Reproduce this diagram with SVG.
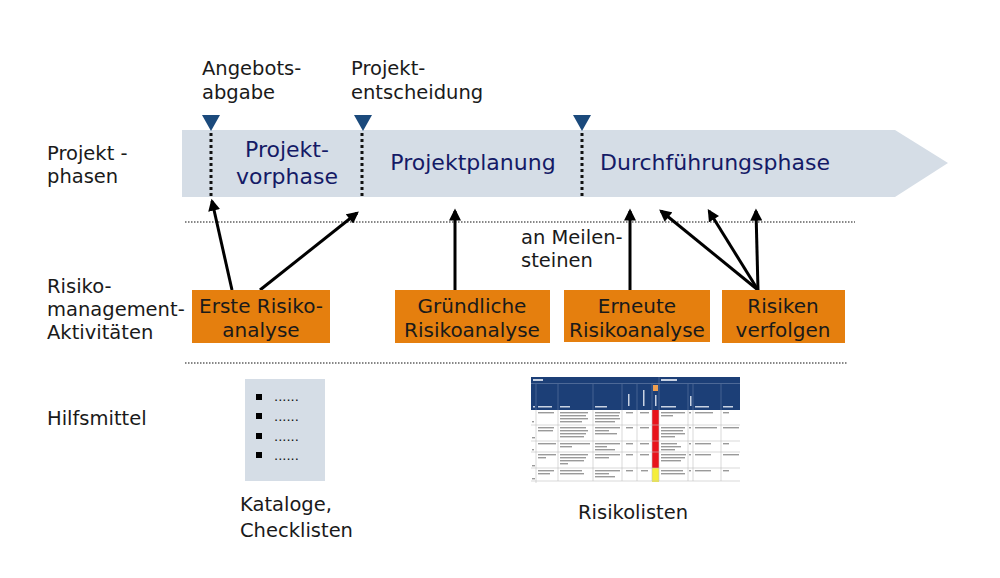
<svg xmlns="http://www.w3.org/2000/svg" width="1000" height="578" viewBox="0 0 1000 578">
<style>
  .lbl { font-family: "DejaVu Sans", Verdana, sans-serif; font-size: 19.5px; fill: #1a1a1a; }
  .phase { font-family: "DejaVu Sans", Verdana, sans-serif; font-size: 22px; fill: #141a66; }
  .box { fill: #e57f0e; }
  .boxt { font-family: "DejaVu Sans", Verdana, sans-serif; font-size: 20px; fill: #1a1a1a; text-anchor: middle; }
  .ms { fill: #1b4a7c; }
  .vdot { stroke: #111; stroke-width: 3; stroke-dasharray: 3 3; fill: none; }
  .hdot { stroke: #111; stroke-width: 1.2; stroke-dasharray: 1.5 1.5; fill: none; }
  .conn { stroke: #000; stroke-width: 3; fill: none; marker-end: url(#ah); }
  .grid { stroke: #bfbfbf; stroke-width: 0.6; }
  .tx { fill: #9a9a9a; }
  .wt { fill: #c9d3e3; }
</style>
<defs>
  <marker id="ah" viewBox="0 0 10 10" refX="8" refY="5" markerWidth="4.2" markerHeight="4" orient="auto" markerUnits="strokeWidth">
    <path d="M0,0 L10,5 L0,10 z" fill="#000"/>
  </marker>
</defs>
<rect width="1000" height="578" fill="#fff"/>

<!-- Row labels -->
<g id="label-projektphasen">
  <text class="lbl" x="47" y="160">Projekt -</text>
  <text class="lbl" x="47" y="183">phasen</text>
</g>
<g id="label-risikomanagement">
  <text class="lbl" x="47" y="293">Risiko-</text>
  <text class="lbl" x="47" y="316">management-</text>
  <text class="lbl" x="47" y="339">Aktivitäten</text>
</g>
<g id="label-hilfsmittel">
  <text class="lbl" x="47" y="425">Hilfsmittel</text>
</g>

<!-- Phase band -->
<g id="phase-band">
  <path d="M182,130 L895,130 L948,163 L895,197 L182,197 Z" fill="#d5dde6"/>
  <text class="phase" x="287" y="157" text-anchor="middle">Projekt-</text>
  <text class="phase" x="287" y="184" text-anchor="middle">vorphase</text>
  <text class="phase" x="473" y="170" text-anchor="middle">Projektplanung</text>
  <text class="phase" x="715" y="170" text-anchor="middle">Durchführungsphase</text>
</g>

<!-- Milestones -->
<g id="milestone-angebotsabgabe">
  <text class="lbl" x="202" y="75">Angebots-</text>
  <text class="lbl" x="202" y="99">abgabe</text>
  <path class="ms" d="M202,115 L220,115 L211,131 Z"/>
  <line class="vdot" x1="211" y1="133" x2="211" y2="197"/>
</g>
<g id="milestone-projektentscheidung">
  <text class="lbl" x="351" y="75">Projekt-</text>
  <text class="lbl" x="351" y="99">entscheidung</text>
  <path class="ms" d="M354,115 L372,115 L363,131 Z"/>
  <line class="vdot" x1="362" y1="133" x2="362" y2="197"/>
</g>
<g id="milestone-3">
  <path class="ms" d="M573,115 L591,115 L582,131 Z"/>
  <line class="vdot" x1="582" y1="133" x2="582" y2="197"/>
</g>

<!-- separators -->
<g id="separators">
  <line class="hdot" x1="185" y1="222" x2="855" y2="222"/>
  <line class="hdot" x1="185" y1="363" x2="847" y2="363"/>
</g>

<!-- Connectors -->
<g id="connectors">
  <line class="conn" x1="232" y1="290" x2="212" y2="201"/>
  <line class="conn" x1="260" y1="290" x2="357" y2="213"/>
  <line class="conn" x1="455" y1="290" x2="455" y2="211"/>
  <line class="conn" x1="630" y1="290" x2="630" y2="211"/>
  <line class="conn" x1="758" y1="290" x2="661" y2="211"/>
  <line class="conn" x1="758" y1="290" x2="709" y2="211"/>
  <line class="conn" x1="758" y1="290" x2="756" y2="211"/>
</g>
<g id="label-meilensteine">
  <text class="lbl" x="521" y="244">an Meilen-</text>
  <text class="lbl" x="521" y="267">steinen</text>
</g>

<!-- Activity boxes -->
<g id="erste-risikoanalyse">
  <rect class="box" x="192" y="290" width="138" height="53"/>
  <text class="boxt" x="261" y="313">Erste Risiko-</text>
  <text class="boxt" x="261" y="337">analyse</text>
</g>
<g id="gruendliche-risikoanalyse">
  <rect class="box" x="395" y="290" width="155" height="53"/>
  <text class="boxt" x="472" y="313">Gründliche</text>
  <text class="boxt" x="472" y="337">Risikoanalyse</text>
</g>
<g id="erneute-risikoanalyse">
  <rect class="box" x="564" y="290" width="146" height="52"/>
  <text class="boxt" x="637" y="313">Erneute</text>
  <text class="boxt" x="637" y="337">Risikoanalyse</text>
</g>
<g id="risiken-verfolgen">
  <rect class="box" x="722" y="290" width="123" height="53"/>
  <text class="boxt" x="783" y="313">Risiken</text>
  <text class="boxt" x="783" y="337">verfolgen</text>
</g>

<!-- Checklist -->
<g id="kataloge-checklisten">
  <rect x="245" y="379" width="80" height="102" fill="#d5dde6"/>
  <rect x="256" y="394" width="6" height="6" fill="#000"/>
  <rect x="256" y="413" width="6" height="6" fill="#000"/>
  <rect x="256" y="433" width="6" height="6" fill="#000"/>
  <rect x="256" y="452" width="6" height="6" fill="#000"/>
  <g font-family="DejaVu Sans, sans-serif" font-size="13" fill="#111">
    <text x="274" y="401">......</text>
    <text x="274" y="421">......</text>
    <text x="274" y="441">......</text>
    <text x="274" y="460">......</text>
  </g>
  <text class="lbl" x="240" y="511">Kataloge,</text>
  <text class="lbl" x="240" y="537">Checklisten</text>
</g>

<!-- Risk list (spreadsheet) -->
<g id="risikolisten">
  <rect x="531" y="377" width="209" height="106" fill="#fff"/>
  <rect x="531" y="377" width="209" height="33" fill="#1c3f77"/>
  <line x1="531" y1="383.5" x2="740" y2="383.5" stroke="#6f86ad" stroke-width="0.6"/>
  <rect x="533" y="379" width="10" height="2" class="wt"/>
  <rect x="661" y="379" width="16" height="2" class="wt"/>
  <g stroke="#6f86ad" stroke-width="0.5">
    <line x1="536" y1="384" x2="536" y2="410"/>
    <line x1="558" y1="384" x2="558" y2="410"/>
    <line x1="593" y1="384" x2="593" y2="410"/>
    <line x1="622" y1="384" x2="622" y2="410"/>
    <line x1="637" y1="384" x2="637" y2="410"/>
    <line x1="652" y1="384" x2="652" y2="410"/>
    <line x1="659" y1="377" x2="659" y2="410"/>
    <line x1="688" y1="384" x2="688" y2="410"/>
    <line x1="693" y1="384" x2="693" y2="410"/>
    <line x1="721" y1="384" x2="721" y2="410"/>
  </g>
  <rect x="653" y="385" width="5" height="6" fill="#f0a050"/>
  <rect x="533" y="406" width="2" height="1.5" class="wt"/>
  <rect x="538" y="406" width="14" height="1.5" class="wt"/>
  <rect x="560" y="406" width="10" height="1.5" class="wt"/>
  <rect x="595" y="406" width="12" height="1.5" class="wt"/>
  <rect x="628" y="394" width="1.5" height="12" class="wt"/>
  <rect x="643" y="390" width="1.5" height="16" class="wt"/>
  <rect x="655" y="395" width="1.5" height="11" class="wt"/>
  <rect x="661" y="406" width="15" height="1.5" class="wt"/>
  <rect x="690" y="396" width="1.5" height="10" class="wt"/>
  <rect x="695" y="406" width="14" height="1.5" class="wt"/>
  <rect x="723" y="406" width="10" height="1.5" class="wt"/>
  <rect x="652" y="410" width="7" height="58" fill="#e8141b"/>
  <rect x="652" y="468" width="7" height="14" fill="#f5ee3a"/>
  <g class="grid">
    <line x1="531" y1="425" x2="740" y2="425"/>
    <line x1="531" y1="441" x2="740" y2="441"/>
    <line x1="531" y1="452" x2="740" y2="452"/>
    <line x1="531" y1="468" x2="740" y2="468"/>
    <line x1="531" y1="481" x2="740" y2="481"/>
    <line x1="536" y1="410" x2="536" y2="483"/>
    <line x1="558" y1="410" x2="558" y2="481"/>
    <line x1="593" y1="410" x2="593" y2="481"/>
    <line x1="622" y1="410" x2="622" y2="481"/>
    <line x1="637" y1="410" x2="637" y2="481"/>
    <line x1="652" y1="410" x2="652" y2="481"/>
    <line x1="659" y1="410" x2="659" y2="481"/>
    <line x1="688" y1="410" x2="688" y2="481"/>
    <line x1="693" y1="410" x2="693" y2="481"/>
    <line x1="721" y1="410" x2="721" y2="481"/>
  </g>
  <g class="tx">
    <rect x="538" y="412" width="16" height="1.4"/>
    <rect x="560" y="412" width="28" height="1.4"/><rect x="560" y="415" width="26" height="1.4"/><rect x="560" y="418" width="28" height="1.4"/><rect x="560" y="421" width="22" height="1.4"/>
    <rect x="595" y="412" width="25" height="1.4"/><rect x="595" y="415" width="24" height="1.4"/><rect x="595" y="418" width="25" height="1.4"/><rect x="595" y="421" width="20" height="1.4"/>
    <rect x="626" y="412" width="7" height="1.4"/><rect x="640" y="412" width="9" height="1.4"/>
    <rect x="661" y="412" width="24" height="1.4"/><rect x="661" y="415" width="12" height="1.4"/>
    <rect x="689" y="412" width="2" height="1.4"/><rect x="695" y="412" width="18" height="1.4"/><rect x="723" y="412" width="6" height="1.4"/>

    <rect x="538" y="427" width="16" height="1.4"/><rect x="538" y="430" width="15" height="1.4"/>
    <rect x="560" y="427" width="26" height="1.4"/><rect x="560" y="430" width="28" height="1.4"/><rect x="560" y="433" width="26" height="1.4"/><rect x="560" y="436" width="24" height="1.4"/>
    <rect x="595" y="427" width="25" height="1.4"/><rect x="595" y="430" width="14" height="1.4"/><rect x="595" y="433" width="22" height="1.4"/>
    <rect x="626" y="427" width="7" height="1.4"/><rect x="640" y="427" width="9" height="1.4"/>
    <rect x="661" y="427" width="24" height="1.4"/><rect x="661" y="430" width="22" height="1.4"/><rect x="661" y="433" width="24" height="1.4"/><rect x="661" y="436" width="14" height="1.4"/>
    <rect x="689" y="427" width="2" height="1.4"/><rect x="695" y="427" width="22" height="1.4"/><rect x="723" y="427" width="16" height="1.4"/>

    <rect x="538" y="443" width="18" height="1.4"/>
    <rect x="560" y="443" width="30" height="1.4"/><rect x="560" y="446" width="12" height="1.4"/>
    <rect x="595" y="443" width="25" height="1.4"/><rect x="595" y="446" width="12" height="1.4"/><rect x="595" y="449" width="20" height="1.4"/>
    <rect x="626" y="443" width="7" height="1.4"/><rect x="640" y="443" width="9" height="1.4"/>
    <rect x="661" y="443" width="16" height="1.4"/><rect x="661" y="446" width="20" height="1.4"/><rect x="661" y="449" width="14" height="1.4"/>
    <rect x="689" y="443" width="2" height="1.4"/><rect x="695" y="443" width="16" height="1.4"/><rect x="723" y="443" width="6" height="1.4"/>

    <rect x="538" y="454" width="18" height="1.4"/><rect x="538" y="457" width="8" height="1.4"/>
    <rect x="560" y="454" width="28" height="1.4"/><rect x="560" y="457" width="26" height="1.4"/><rect x="560" y="460" width="24" height="1.4"/><rect x="560" y="463" width="8" height="1.4"/>
    <rect x="595" y="454" width="25" height="1.4"/><rect x="595" y="457" width="14" height="1.4"/>
    <rect x="626" y="454" width="7" height="1.4"/><rect x="640" y="454" width="9" height="1.4"/>
    <rect x="661" y="454" width="25" height="1.4"/><rect x="661" y="457" width="24" height="1.4"/><rect x="661" y="460" width="20" height="1.4"/>
    <rect x="689" y="454" width="2" height="1.4"/><rect x="695" y="454" width="16" height="1.4"/><rect x="723" y="454" width="16" height="1.4"/>

    <rect x="538" y="470" width="16" height="1.4"/><rect x="538" y="473" width="12" height="1.4"/>
    <rect x="560" y="470" width="22" height="1.4"/><rect x="560" y="473" width="24" height="1.4"/>
    <rect x="595" y="470" width="25" height="1.4"/><rect x="595" y="473" width="14" height="1.4"/><rect x="595" y="476" width="20" height="1.4"/>
    <rect x="626" y="470" width="7" height="1.4"/><rect x="641" y="470" width="7" height="1.4"/>
    <rect x="661" y="470" width="22" height="1.4"/><rect x="661" y="473" width="24" height="1.4"/>
    <rect x="689" y="470" width="2" height="1.4"/><rect x="695" y="470" width="16" height="1.4"/><rect x="723" y="470" width="6" height="1.4"/>

    <rect x="532" y="421" width="2" height="1.4"/><rect x="532" y="437" width="3" height="1.4"/><rect x="532" y="449" width="2" height="1.4"/><rect x="532" y="465" width="3" height="1.4"/><rect x="532" y="478" width="3" height="1.4"/>
  </g>
  <text class="lbl" x="578" y="519">Risikolisten</text>
</g>
</svg>
